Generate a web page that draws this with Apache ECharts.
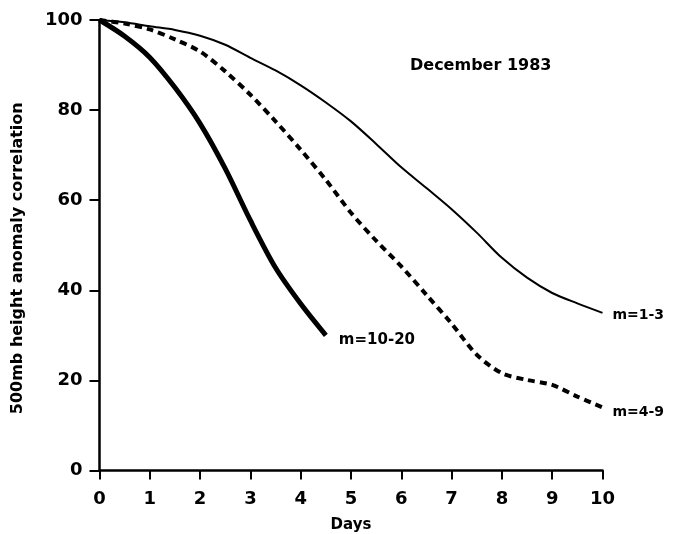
<!DOCTYPE html>
<html>
<head>
<meta charset="utf-8">
<script src="https://cdn.jsdelivr.net/npm/echarts@6/dist/echarts.min.js"></script>
<style>
html,body{margin:0;padding:0;background:#fff;}
#chart{width:675px;height:534px;}
</style>
</head>
<body>
<div id="chart"></div>
<script>
// Days (x) and anomaly correlation values (y)
var daysHalf = [0, 0.5, 1, 1.5, 2, 2.5, 3, 3.5, 4, 4.5, 5, 5.5, 6, 6.5, 7, 7.5, 8, 8.5, 9, 9.5, 10];
var m1to3 = [100, 99.5, 98.6, 97.8, 96.5, 94.5, 91.6, 88.8, 85.5, 81.7, 77.5, 72.5, 67.3, 62.7, 58, 52.8, 47.2, 42.8, 39.4, 37.1, 35];
var m4to9 = [100, 99.2, 97.9, 95.7, 93, 88.6, 83.4, 77.5, 71.2, 64.5, 57.2, 51, 45.3, 39, 32.6, 25.7, 21.6, 20.1, 19, 16.4, 14];
var daysShort = [0, 0.5, 1, 1.5, 2, 2.5, 3, 3.5, 4, 4.5];
var m10to20 = [100, 96.4, 91.7, 85, 77, 67, 55.5, 45, 37, 30];
var xTicks = [0, 1, 2, 3, 4, 5, 6, 7, 8, 9, 10];
var yTicks = [0, 20, 40, 60, 80, 100];
var seriesNames = ['m=1-3', 'm=4-9', 'm=10-20'];
var titleText = 'December 1983';
var xName = 'Days';
var yName = '500mb height anomaly correlation';

function pairs(xs, ys) { return xs.map(function (x, i) { return [x, ys[i]]; }); }

var FONT = '"DejaVu Sans", sans-serif';
var chart = echarts.init(document.getElementById('chart'), null, {renderer: 'canvas'});
chart.setOption({
  backgroundColor: '#ffffff',
  animation: false,
  title: {
    text: titleText,
    left: 405, top: 53,
    textStyle: {fontFamily: FONT, fontWeight: 'bold', fontSize: 16, color: '#000'}
  },
  grid: {left: 99.5, right: 72.5, top: 20, bottom: 63.5, containLabel: false, outerBoundsMode: 'none'},
  xAxis: {
    type: 'value', min: xTicks[0], max: xTicks[xTicks.length - 1], interval: 1,
    name: xName, nameLocation: 'middle', nameGap: 47,
    nameTextStyle: {fontFamily: FONT, fontWeight: 'bold', fontSize: 15, color: '#000'},
    axisLine: {lineStyle: {color: '#000', width: 2.5}},
    axisTick: {length: 9, lineStyle: {color: '#000', width: 2}},
    axisLabel: {margin: 20, fontFamily: FONT, fontWeight: 'bold', fontSize: 18, color: '#000'},
    splitLine: {show: false}
  },
  yAxis: {
    type: 'value', min: yTicks[0], max: yTicks[yTicks.length - 1], interval: 20,
    name: yName, nameLocation: 'middle', nameGap: 74,
    nameTextStyle: {fontFamily: FONT, fontWeight: 'bold', fontSize: 16, color: '#000', padding: [0, 26, 0, 0]},
    axisLine: {show: true, lineStyle: {color: '#000', width: 2.5}},
    axisTick: {show: true, length: 10, lineStyle: {color: '#000', width: 2}},
    axisLabel: {margin: 17, fontFamily: FONT, fontWeight: 'bold', fontSize: 18, color: '#000'},
    splitLine: {show: false}
  },
  series: [
    {
      name: seriesNames[0], type: 'line', data: pairs(daysHalf, m1to3),
      smooth: 0.3, symbol: 'none',
      lineStyle: {color: '#000', width: 2},
      endLabel: {show: true, formatter: seriesNames[0], distance: 10, offset: [0, 3],
        fontFamily: FONT, fontWeight: 'bold', fontSize: 14, color: '#000'}
    },
    {
      name: seriesNames[1], type: 'line', data: pairs(daysHalf, m4to9),
      smooth: 0.3, symbol: 'none',
      lineStyle: {color: '#000', width: 4, type: [7, 5]},
      endLabel: {show: true, formatter: seriesNames[1], distance: 10, offset: [0, 5],
        fontFamily: FONT, fontWeight: 'bold', fontSize: 14, color: '#000'}
    },
    {
      name: seriesNames[2], type: 'line', data: pairs(daysShort, m10to20),
      smooth: 0.3, symbol: 'none',
      lineStyle: {color: '#000', width: 5},
      endLabel: {show: true, formatter: seriesNames[2], distance: 13, offset: [0, 5],
        fontFamily: FONT, fontWeight: 'bold', fontSize: 15, color: '#000'}
    }
  ]
});
</script>
</body>
</html>
